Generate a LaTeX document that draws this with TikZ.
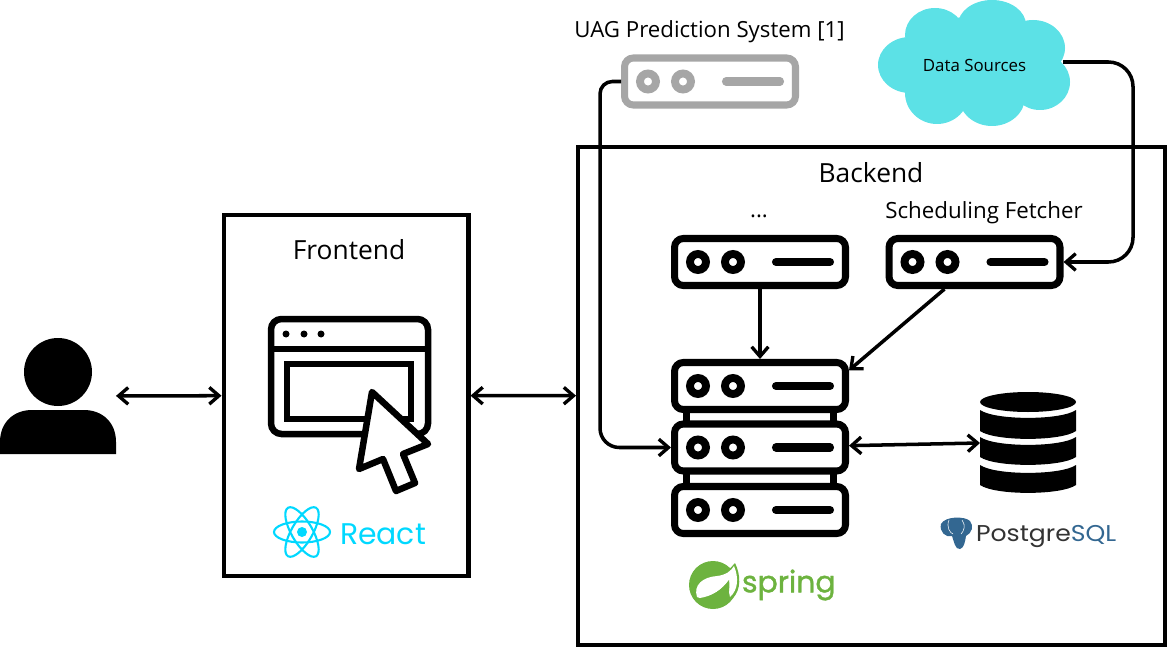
\documentclass[tikz,border=0pt]{standalone}
\usepackage{fontspec}
\setmainfont{Open Sans}
\newfontfamily\logofont{Poppins}
\newfontfamily\springfont[FakeBold=1.2]{Poppins}
\usetikzlibrary{arrows.meta}
\definecolor{cloudcyan}{HTML}{5CE1E6}
\definecolor{reactcyan}{HTML}{00D8FF}
\definecolor{springgreen}{HTML}{6DB33F}
\definecolor{pgblue}{HTML}{336791}
\definecolor{pgdark}{HTML}{333333}
\definecolor{servergrey}{HTML}{A6A6A6}
\tikzset{
  >={Straight Barb[length=5.5pt,width=9.5pt,line width=1.9pt]},
  conn/.style={draw=black,line width=2pt},
  bigbox/.style={draw=black,line width=2.3pt,inner sep=0pt},
  serverbody/.style={draw=#1,fill=white,line width=4pt,rounded corners=5pt,inner sep=0pt,minimum width=3.42cm,minimum height=0.94cm},
  serverbody/.default=black,
  blank/.style={inner sep=0pt,outer sep=0pt},
  pics/serverbits/.style={code={
    \foreach \dx in {-62,-27} {
      \draw [#1,line width=4.5pt] (\dx,0) circle (8);
    }
    \draw [#1,line width=4.6pt,line cap=round] (16,0) -- (70,0);
  }}
}
\begin{document}
\begin{tikzpicture}[x=0.02cm,y=-0.02cm]
\useasboundingbox (0,0) rectangle (1168,648);
% boxes
\node [bigbox,minimum width=4.9cm,minimum height=7.24cm] (frontend) at (346,395.5) {};
\node [bigbox,minimum width=11.74cm,minimum height=9.96cm] (backend) at (871.5,396) {};
\node [blank,font=\fontsize{15}{18}\selectfont] (frontendlabel) at (349,250) {Frontend};
\node [blank,font=\fontsize{15}{18}\selectfont] (backendlabel) at (871,173) {Backend};
% person
\fill [black] (58,372) circle (34);
\fill [black] (0,454) -- (0,442) .. controls (0,422) and (14,410) .. (32,410) -- (84,410) .. controls (102,410) and (116,422) .. (116,442) -- (116,454) -- cycle;
\node [blank,minimum width=2.32cm,minimum height=2.32cm] (person) at (58,396) {};
% cloud
\foreach \cx/\cy/\rx/\ry in {910/65/32/28,935/35/30/27,992/25/34/25,1033/48/32/28,1040/82/30/28,992/97/33/29,937/93/32/31,975/62/62/46} {
  \fill [cloudcyan] (\cx,\cy) circle [x radius=\rx,y radius=\ry];
}
\node [blank,font=\fontsize{9.6}{11}\selectfont] (datacloud) at (974.5,65.5) {Data Sources};
\coordinate (cloudout) at (1063,62);
% servers
\node [serverbody=servergrey] (uagsrv) at (710,81.5) {};
\pic at (uagsrv) {serverbits=servergrey};
\node [blank,font=\fontsize{12.65}{14}\selectfont] (uaglabel) at (709.5,31.5) {UAG Prediction System [1]};
\node [serverbody] (dotsrv) at (760,262) {};
\pic at (dotsrv) {serverbits=black};
\node [blank,font=\fontsize{12.65}{14}\selectfont] (dotlabel) at (759,216) {...};
\node [serverbody] (schedsrv) at (974.5,262) {};
\pic at (schedsrv) {serverbits=black};
\node [blank,font=\fontsize{12.7}{14}\selectfont] (schedlabel) at (984,213) {Scheduling Fetcher};
% rack
\foreach \px in {683,830} {
  \fill [black] (\px,405) rectangle +(7,85);
}
\node [serverbody] (toprack) at (760,386) {};
\pic at (toprack) {serverbits=black};
\node [serverbody] (midrack) at (760,447.5) {};
\pic at (midrack) {serverbits=black};
\node [serverbody] (lowrack) at (760,510) {};
\pic at (lowrack) {serverbits=black};
% database
\fill [black] (1028,402) circle [x radius=48,y radius=10];
\foreach \yt/\yb in {410/431,437/457,465/485} {
  \fill [black] (980,\yt) .. controls (995,\yt+10.5) and (1061,\yt+10.5) .. (1076,\yt) -- (1076,\yb) .. controls (1061,\yb+10.5) and (995,\yb+10.5) .. (980,\yb) -- cycle;
}
\node [blank,minimum width=1.92cm,minimum height=2.08cm] (dbstack) at (1028,442) {};
% browser
\draw [line width=3.7pt,rounded corners=6pt] (271,319) rectangle (428,434);
\draw [line width=3.4pt] (271,349) -- (428,349);
\foreach \dx in {286,304,321} {
  \fill [black] (\dx,334) circle (3.5);
}
\draw [line width=3.7pt] (287,364) rectangle (411,419);
\draw [line width=3.7pt,line join=round,fill=white] (372,392) -- (428,444) -- (403,454) -- (415,483) -- (396,491) -- (383,459) -- (359,469) -- cycle;
% react
\foreach \ang in {0,60,120} {
  \draw [reactcyan,line width=1.2pt] (302,532) circle [x radius=28,y radius=10.5,rotate=\ang];
}
\fill [reactcyan] (302,532) circle (5);
\node [blank,text=reactcyan,font=\logofont\fontsize{17}{20}\selectfont,anchor=west] (reactlabel) at (340,534) {React};
% spring
\fill [springgreen] (713,585) circle (24);
\fill [springgreen] (735,563) .. controls (741,575) and (741,590) .. (733,598) -- (715,585) -- cycle;
\fill [white] (697,597) .. controls (693,585) and (703,577) .. (717,576) .. controls (726,575) and (731,571) .. (734,566) .. controls (739,578) and (738,590) .. (730,597) .. controls (728,590) and (729,585) .. (729,580) .. controls (722,590) and (712,596) .. (700,598) -- cycle;
\fill [springgreen] (702,599) .. controls (712,596) and (722,590) .. (729,580) .. controls (730,588) and (729,593) .. (727,598) -- (712,604) -- cycle;
\node [blank,text=springgreen,font=\springfont\fontsize{17}{20}\selectfont,anchor=west] (springlabel) at (742,585) {spring};
% postgres
\fill [pgblue] (941,524) .. controls (945,516) and (965,516) .. (970,521) .. controls (974,526) and (972,533) .. (966,536) .. controls (965,542) and (964,548) .. (960,549) .. controls (955,550) and (954,541) .. (952,536) .. controls (946,538) and (939,532) .. (941,524) -- cycle;
\draw [white,line width=0.3pt] (949,520) .. controls (946,527) and (950,533) .. (953,534);
\draw [white,line width=0.3pt] (962,520) .. controls (966,525) and (964,531) .. (961,534);
\node [blank,text=pgdark,font=\logofont\fontsize{13}{15}\selectfont,anchor=west] (pglabel) at (976,537) {\scalebox{1.1}[1]{Postgre\textcolor{pgblue}{SQL}}};
% connectors
\draw [conn,<->] (person) -- (frontend);
\draw [conn,<->] (frontend) -- (backend);
\draw [conn,->] (dotsrv) -- (toprack);
\draw [conn,->] (schedsrv.222) -- (toprack.10);
\draw [conn,<->] (midrack) -- (dbstack);
\draw [conn,->,rounded corners=7pt] (uagsrv.west) -- ++(-21,0) [rounded corners=11pt] |- (midrack.west);
\draw [conn,->,rounded corners=14pt] (cloudout) -- ++(70,0) |- (schedsrv.east);
\end{tikzpicture}
\end{document}
